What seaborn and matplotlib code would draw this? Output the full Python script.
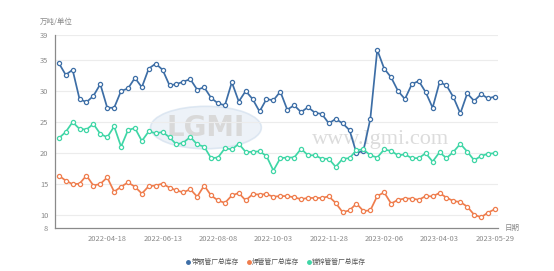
import matplotlib
matplotlib.use("Agg")
import matplotlib.pyplot as plt
from matplotlib.lines import Line2D
from matplotlib.patches import Ellipse
import seaborn as sns
import pandas as pd
import numpy as np

# ---- data ----
missing_weeks = ["2023-01-23", "2023-01-30"]
dates = [d.strftime("%Y-%m-%d") for d in pd.date_range("2022-02-28", "2023-05-29", freq="7D")
         if d.strftime("%Y-%m-%d") not in missing_weeks]

strip_steel = [34.5, 32.6, 33.4, 28.7, 28.2, 29.2, 31.1, 27.3, 27.3, 30.0,
               30.4, 32.1, 30.6, 33.6, 34.4, 33.4, 30.9, 31.1, 31.5, 31.9,
               30.2, 30.6, 28.9, 28.0, 27.7, 31.4, 28.3, 30.0, 28.7, 26.7,
               28.7, 28.5, 29.9, 27.0, 27.7, 26.6, 27.4, 26.5, 26.3, 24.8,
               25.5, 24.8, 23.7, 20.0, 20.4, 25.5, 36.6, 33.6, 32.2, 30.0,
               28.7, 31.1, 31.6, 29.8, 27.3, 31.4, 30.9, 29.0, 26.4, 29.6,
               28.4, 29.5, 28.8, 29.1]
welded = [16.4, 15.6, 15.0, 15.1, 16.4, 14.8, 15.05, 16.1, 13.8, 14.6,
          15.3, 14.6, 13.5, 14.7, 14.8, 15.1, 14.45, 14.0, 13.7, 14.2,
          13.0, 14.8, 13.2, 12.4, 12.0, 13.2, 13.6, 12.4, 13.4, 13.35,
          13.4, 13.0, 13.1, 13.1, 12.9, 12.6, 12.8, 12.8, 12.8, 13.05,
          12.0, 10.5, 10.8, 11.9, 10.7, 10.8, 13.1, 13.7, 11.9, 12.5,
          12.7, 12.7, 12.5, 13.1, 13.05, 13.6, 12.85, 12.3, 12.15, 11.4,
          10.1, 9.7, 10.45, 11.0]
galvanized = [22.4, 23.4, 25.0, 23.9, 23.8, 24.7, 23.1, 22.55, 24.3, 21.05,
              23.7, 24.05, 21.96, 23.5, 23.2, 23.4, 22.55, 21.4, 21.7, 22.6,
              21.4, 21.05, 19.2, 19.3, 20.8, 20.6, 21.5, 20.2, 20.2, 20.3,
              19.55, 17.2, 19.2, 19.3, 19.3, 20.7, 19.66, 19.66, 19.1, 19.1,
              17.8, 19.1, 19.2, 20.5, 20.6, 19.66, 19.3, 20.6, 20.35, 19.66,
              19.8, 19.2, 19.2, 20.0, 18.65, 20.15, 19.2, 20.2, 21.5, 20.25,
              18.86, 19.55, 19.9, 20.0]

series_names = ["带钢管厂总库存", "焊管管厂总库存", "镀锌管管厂总库存"]
series_values = [strip_steel, welded, galvanized]
series_colors = ["#3d6ea6", "#ef7d4d", "#3fd6a6"]
y_ticks = [8, 10, 15, 20, 25, 30, 35, 39]
label_dates = ["2022-04-18", "2022-06-13", "2022-08-08", "2022-10-03",
               "2022-11-28", "2023-02-06", "2023-04-03", "2023-05-29"]

# ---- style ----
sns.set_style("white")
plt.rcParams["font.family"] = ["Noto Sans CJK SC", "DejaVu Sans"]

W, H = 554, 271
fig = plt.figure(figsize=(W / 100, H / 100), dpi=100)
left, right, top, bottom = 55.3, 498.4, 35.0, 227.8
ax = fig.add_axes([left / W, 1 - bottom / H, (right - left) / W, (bottom - top) / H])

# watermark
ax.add_patch(Ellipse((0.34, 0.52), 0.25, 0.22, transform=ax.transAxes,
                     facecolor="#e6edf6", edgecolor="#d3e0ee", lw=1.2, alpha=0.7, zorder=0))
ax.text(0.34, 0.52, "LGMI", transform=ax.transAxes, ha="center", va="center",
        fontsize=20, color="#d9d9d9", fontweight="bold", family="DejaVu Sans", zorder=0)
ax.text(0.735, 0.46, "www.lgmi.com", transform=ax.transAxes, ha="center", va="center",
        fontsize=16, color="#dcdcdc", family="Liberation Serif", zorder=0)

idx = np.arange(len(dates))
for name, vals, col in zip(series_names, series_values, series_colors):
    df = pd.DataFrame({"idx": idx, "val": vals})
    sns.lineplot(data=df, x="idx", y="val", ax=ax, color=col, linewidth=1.25,
                 marker="o", markersize=3, markerfacecolor="white",
                 markeredgecolor=col, markeredgewidth=0.9, legend=False, zorder=3)

ax.set_xlim(-0.5, len(dates) - 0.5)
ax.set_ylim(8, 39)
ax.set_yticks(y_ticks)
ax.set_yticklabels([str(t) for t in y_ticks])
for t in y_ticks[1:]:
    ax.axhline(t, color="#ececec", lw=0.8, zorder=1)

label_idx = [dates.index(d) for d in label_dates]
ax.set_xticks(label_idx)
ax.set_xticklabels(label_dates)
ax.set_xticks([i - 0.5 for i in label_idx], minor=True)
ax.tick_params(axis="x", which="major", length=0, pad=5, labelsize=5.4, labelcolor="#8a8a8a")
ax.tick_params(axis="x", which="minor", length=3, width=0.8, color="#8a8a8a", direction="out")
ax.tick_params(axis="y", length=3, width=0.8, color="#8a8a8a", pad=2, labelsize=5.4,
               labelcolor="#8a8a8a", direction="out")
ax.set_xlabel("")
ax.set_ylabel("")
for s in ["top", "right"]:
    ax.spines[s].set_visible(False)
for s in ["left", "bottom"]:
    ax.spines[s].set_color("#8a8a8a")
    ax.spines[s].set_linewidth(0.9)

fig.text(40 / W, 1 - 22 / H, "万吨/单位", fontsize=5.4, color="#8a8a8a", ha="left", va="center")
fig.text(505 / W, 1 - 228 / H, "日期", fontsize=5.4, color="#8a8a8a", ha="left", va="center")

handles = [Line2D([0], [0], marker="o", linestyle="", markersize=2.5,
                  markerfacecolor=c, markeredgecolor=c) for c in series_colors]
fig.legend(handles, series_names, loc="center", bbox_to_anchor=(0.498, 1 - 262 / H),
           ncol=3, frameon=False, fontsize=4.9, labelcolor="#555555",
           handletextpad=0.1, columnspacing=1.0, handlelength=0.8)

fig.savefig("out.png", dpi=100)
